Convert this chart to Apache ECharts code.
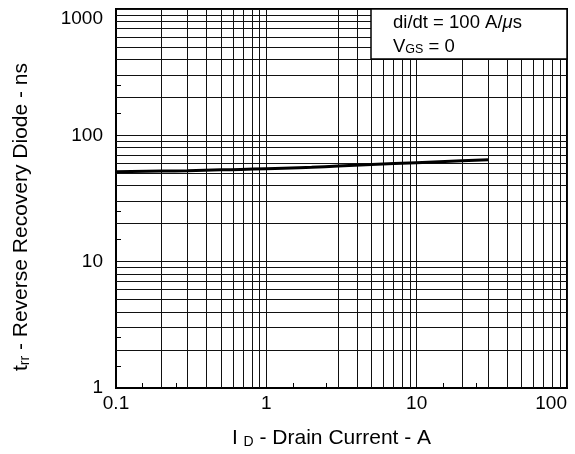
<!DOCTYPE html>
<html>
<head>
<meta charset="utf-8">
<script src="https://cdn.jsdelivr.net/npm/echarts@6/dist/echarts.min.js"></script>
<style>
html,body{margin:0;padding:0;background:#fff;}
#chart{width:575px;height:454px;}
</style>
</head>
<body>
<div id="chart"></div>
<script>
// Data
const currentA = [0.1, 0.2, 0.3, 0.5, 1, 2, 3, 5, 10, 20, 30];
const trrNs = [51.6, 52.1, 52.5, 53.3, 54.3, 55.9, 57.1, 58.7, 60.8, 62.8, 64.0];

// Axis grid and tick values
const xGridValues = [0.2,0.3,0.4,0.5,0.6,0.7,0.8,0.9, 3,4,5,6,7,8,9, 20,30,40,50,60,70,80,90];
const yGridValues = [2,3,4,5,6,7,8,9, 20,30,40,50,60,70,80,90, 200,300,400,500,600,700,800,900];
const xShortTicks = [0.15, 0.25, 1.5, 2.5, 15, 25];
const yShortTicks = [1.5, 2.5, 15, 25, 150, 250];

const FONT = 'Liberation Sans, Arial, sans-serif';
const chart = echarts.init(document.getElementById('chart'), null, {renderer: 'canvas'});

const gridLine = {color: '#111', width: 1};

const markLineData = []
  .concat(xGridValues.map(v => ({xAxis: v})))
  .concat(yGridValues.map(v => ({yAxis: v})));

chart.setOption({
  animation: false,
  backgroundColor: '#fff',
  grid: {left: 116, right: 8, top: 9, bottom: 62, show: true, borderColor: '#000', borderWidth: 2, backgroundColor: 'transparent'},
  xAxis: [{
    type: 'log', logBase: 10, min: 0.1, max: 100, position: 'bottom',
    axisLine: {show: true, lineStyle: {color: '#000', width: 2}},
    axisTick: {show: false},
    splitLine: {show: true, lineStyle: gridLine},
    axisLabel: {color: '#000', fontSize: 19, fontFamily: FONT, margin: 6, alignMaxLabel: 'right',
      formatter: v => String(v)},
    name: '{n|I }{s|D}{n| - Drain Current - A}',
    nameLocation: 'middle', nameGap: 40,
    nameTextStyle: {padding: [0, 20, 0, 0], rich: {
      n: {fontSize: 21, fontFamily: FONT, color: '#000'},
      s: {fontSize: 14, fontFamily: FONT, color: '#000', verticalAlign: 'bottom'}
    }}
  }, {
    type: 'log', logBase: 10, min: 0.1, max: 100, position: 'bottom',
    axisLine: {show: false},
    axisLabel: {show: false},
    splitLine: {show: false},
    axisTick: {show: true, inside: true, length: 5, customValues: xShortTicks, lineStyle: {color: '#000', width: 1}}
  }],
  yAxis: [{
    type: 'log', logBase: 10, min: 1, max: 1000, position: 'left',
    axisLine: {show: true, lineStyle: {color: '#000', width: 2}},
    axisTick: {show: false},
    splitLine: {show: true, lineStyle: gridLine},
    axisLabel: {color: '#000', fontSize: 19, fontFamily: FONT, margin: 13,
      verticalAlignMaxLabel: 'top', formatter: v => String(v)},
    name: '{n|t}{s|rr}{n| - Reverse Recovery Diode - ns}',
    nameLocation: 'middle', nameGap: 84, nameRotate: 90,
    nameTextStyle: {padding: [0, 37, 0, 0], rich: {
      n: {fontSize: 21, fontFamily: FONT, color: '#000'},
      s: {fontSize: 14, fontFamily: FONT, color: '#000', verticalAlign: 'bottom'}
    }}
  }, {
    type: 'log', logBase: 10, min: 1, max: 1000, position: 'left',
    axisLine: {show: false},
    axisLabel: {show: false},
    splitLine: {show: false},
    axisTick: {show: true, inside: true, length: 5, customValues: yShortTicks, lineStyle: {color: '#000', width: 1}}
  }],
  series: [{
    type: 'line',
    xAxisIndex: 0, yAxisIndex: 0,
    data: currentA.map((x, i) => [x, trrNs[i]]),
    smooth: true,
    showSymbol: false,
    lineStyle: {color: '#000', width: 3},
    z: 5,
    markLine: {
      silent: true, symbol: 'none', animation: false,
      label: {show: false},
      lineStyle: {color: '#111', width: 1, type: 'solid'},
      emphasis: {disabled: true},
      data: markLineData
    }
  }],
  graphic: [{
    type: 'group', z: 100,
    children: [{
      type: 'rect', shape: {x: 371, y: 9, width: 196, height: 50},
      style: {fill: '#fff', stroke: '#000', lineWidth: 1.5}, z: 100
    }, {
      type: 'text', x: 393, y: 22.7, z: 101,
      style: {
        text: '{a|di/dt = 100 A/}{i|μ}{a|s}',
        verticalAlign: 'middle',
        rich: {
          a: {fontSize: 18.5, fontFamily: FONT, fill: '#000'},
          i: {fontSize: 18.5, fontFamily: FONT, fontStyle: 'italic', fill: '#000'}
        }
      }
    }, {
      type: 'text', x: 393, y: 46.7, z: 101,
      style: {
        text: '{a|V}{s|GS}{a| = 0}',
        verticalAlign: 'middle',
        rich: {
          a: {fontSize: 18.5, fontFamily: FONT, fill: '#000'},
          s: {fontSize: 12.5, fontFamily: FONT, fill: '#000', verticalAlign: 'bottom'}
        }
      }
    }]
  }]
});
</script>
</body>
</html>
